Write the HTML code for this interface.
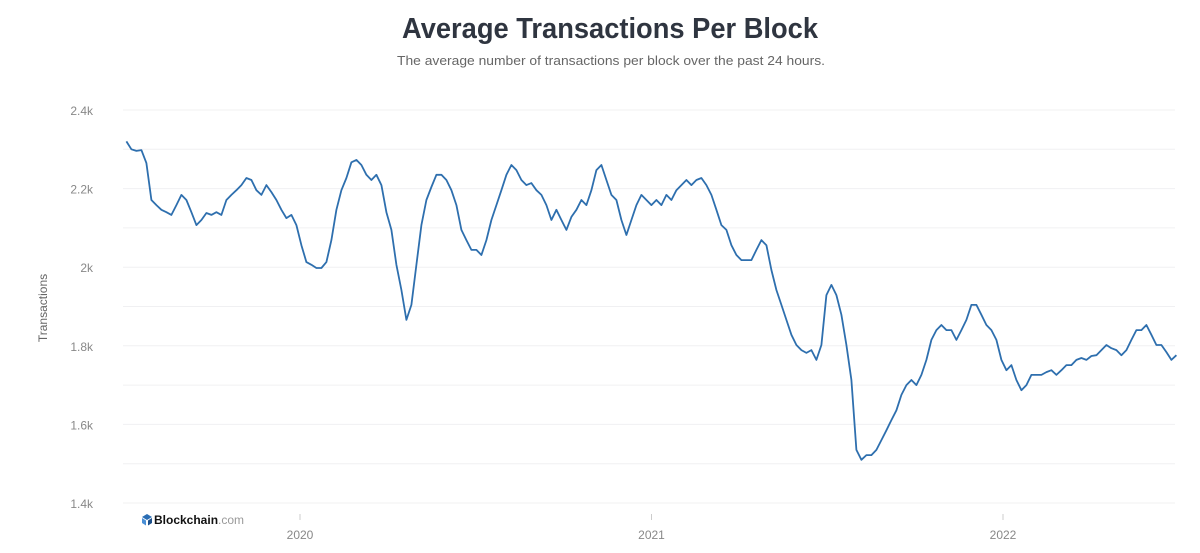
<!DOCTYPE html>
<html><head><meta charset="utf-8"><style>
html,body{margin:0;padding:0;background:#fff;}
body{width:1200px;height:548px;overflow:hidden;font-family:"Liberation Sans",sans-serif;}
</style></head><body>
<svg id="chart" width="1200" height="548" xmlns="http://www.w3.org/2000/svg">
<text x="610" y="38" text-anchor="middle" font-size="29" font-weight="bold" fill="#2f3540" textLength="416" lengthAdjust="spacingAndGlyphs">Average Transactions Per Block</text>
<text x="611" y="65" text-anchor="middle" font-size="13" fill="#666" textLength="428" lengthAdjust="spacingAndGlyphs">The average number of transactions per block over the past 24 hours.</text>
<g id="grid"></g>
<g id="yaxis"></g>
<g id="xaxis"></g>
<text transform="translate(47,308) rotate(-90)" text-anchor="middle" font-size="12" fill="#666">Transactions</text>
<g>
<path d="M142 517 l5 -3 l5 3 l-5 3 z" fill="#2a6db4"/><path d="M142 518 l4 2.5 v5 l-4 -2.5z" fill="#4a8fd6"/><path d="M152 518 l-4 2.5 v5 l4 -2.5z" fill="#1c4f8a"/>
<text x="154" y="524" font-size="12" font-weight="bold" fill="#111">Blockchain<tspan font-weight="normal" fill="#999">.com</tspan></text>
</g>
<path id="line" fill="none" stroke="#2e6fae" stroke-width="1.8" stroke-linejoin="round"/>
</svg>
<script>
const startYear = 2019.506; // x=125
const stepYears = 0.014225; // sampling step between points
const values = [2320,2300,2296,2298,2265,2171,2158,2146,2140,2133,2158,2184,2171,2140,2107,2120,2138,2133,2140,2133,2171,2184,2196,2209,2227,2222,2196,2184,2209,2191,2171,2146,2125,2133,2107,2056,2013,2006,1998,1998,2013,2069,2146,2196,2227,2267,2273,2260,2235,2222,2235,2209,2140,2095,2006,1942,1866,1904,2006,2107,2171,2204,2235,2235,2222,2196,2158,2095,2069,2044,2044,2031,2069,2120,2158,2196,2235,2260,2247,2222,2209,2214,2196,2184,2158,2120,2146,2120,2095,2128,2146,2171,2158,2196,2247,2260,2222,2184,2171,2120,2082,2120,2158,2184,2171,2158,2171,2158,2184,2171,2196,2209,2222,2209,2222,2227,2209,2184,2146,2107,2095,2056,2031,2018,2018,2018,2044,2069,2056,1993,1942,1904,1866,1828,1802,1789,1782,1789,1764,1802,1929,1955,1929,1879,1802,1713,1535,1510,1522,1522,1535,1560,1585,1611,1636,1675,1700,1713,1700,1726,1764,1815,1840,1853,1840,1840,1815,1840,1866,1904,1904,1879,1853,1840,1815,1764,1738,1751,1713,1687,1700,1726,1726,1726,1733,1738,1726,1738,1751,1751,1764,1769,1764,1774,1776,1789,1802,1794,1789,1776,1789,1815,1840,1840,1853,1828,1802,1802,1784,1764,1776];
const yTicks = [1400,1600,1800,2000,2200,2400];
const yTickLabels = ["1.4k","1.6k","1.8k","2k","2.2k","2.4k"];
const gridValues = [1400,1500,1600,1700,1800,1900,2000,2100,2200,2300,2400];
const xTicks = [2020,2021,2022];
const xTickLabels = ["2020","2021","2022"];

const NS="http://www.w3.org/2000/svg";
function yScale(v){return 503-(v-1400)*(393/1000);}
function xScale(yr){return 300+(yr-2020)*351.5;}
function mk(tag,attrs,parent){const e=document.createElementNS(NS,tag);for(const k in attrs)e.setAttribute(k,attrs[k]);parent.appendChild(e);return e;}
const grid=document.getElementById('grid'),ya=document.getElementById('yaxis'),xa=document.getElementById('xaxis');
gridValues.forEach(v=>{
  const l=mk('line',{x1:123,x2:1175,y1:yScale(v),y2:yScale(v),stroke:'#f0f0f2','stroke-width':1},grid);
  
  
});
yTicks.forEach((v,i)=>{
  const t=mk('text',{x:93,y:yScale(v)+5,'text-anchor':'end','font-size':12,fill:'#888'},ya);
  t.textContent=yTickLabels[i];
  
  
});
xTicks.forEach((v,i)=>{
  const tk=mk('line',{x1:xScale(v),x2:xScale(v),y1:514,y2:520,stroke:'#ccc','stroke-width':1},xa);
  
  
  const t=mk('text',{x:xScale(v),y:539,'text-anchor':'middle','font-size':12,fill:'#888'},xa);
  t.textContent=xTickLabels[i];
  
  
});
let d='';
values.forEach((v,i)=>{const x=xScale(startYear+i*stepYears),y=yScale(v);d+=(i?'L':'M')+x.toFixed(1)+' '+y.toFixed(1);});
document.getElementById('line').setAttribute('d',d);
</script>
</body></html>
